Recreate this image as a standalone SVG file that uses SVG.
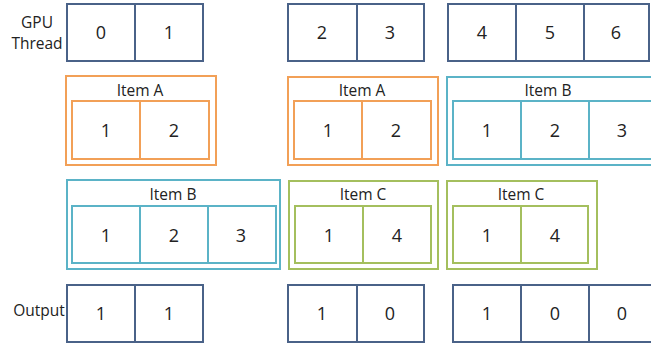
<svg xmlns="http://www.w3.org/2000/svg" width="651" height="344" viewBox="0 0 651 344">
<style>
text{font-family:"Open Sans","Liberation Sans",sans-serif;fill:#222;text-anchor:middle}
.n{font-size:18px}
.l{font-size:15.5px}
.t{fill:none;stroke:#4a6288;stroke-width:2}
.a{fill:none;stroke:#f2a057;stroke-width:2}
.b{fill:none;stroke:#5bb3c7;stroke-width:2}
.c{fill:none;stroke:#a4bf5e;stroke-width:2}
</style>
<rect width="651" height="344" fill="#fff"/>
<g id="labels">
<text class="l" x="37" y="28">GPU</text>
<text class="l" x="37" y="49">Thread</text>
<text class="l" x="39" y="316">Output</text>
</g>
<g id="thread1">
<rect class="t" x="67" y="4" width="136" height="57"/>
<line class="t" x1="135" y1="4" x2="135" y2="61"/>
<text class="n" x="101" y="39">0</text><text class="n" x="169" y="39">1</text>
</g>
<g id="thread2">
<rect class="t" x="288" y="4" width="136" height="57"/>
<line class="t" x1="357" y1="4" x2="357" y2="61"/>
<text class="n" x="322" y="39">2</text><text class="n" x="390" y="39">3</text>
</g>
<g id="thread3">
<rect class="t" x="448" y="4" width="201" height="57"/>
<line class="t" x1="516" y1="4" x2="516" y2="61"/>
<line class="t" x1="584" y1="4" x2="584" y2="61"/>
<text class="n" x="482" y="39">4</text><text class="n" x="550" y="39">5</text><text class="n" x="616" y="39">6</text>
</g>
<g id="itemA1">
<rect class="a" x="66" y="76" width="150" height="89"/>
<text class="l" x="140" y="96">Item A</text>
<rect class="a" x="72" y="101" width="137" height="58"/>
<line class="a" x1="140" y1="101" x2="140" y2="159"/>
<text class="n" x="106" y="137">1</text><text class="n" x="174" y="137">2</text>
</g>
<g id="itemA2">
<rect class="a" x="288" y="77" width="150" height="88"/>
<text class="l" x="362" y="96">Item A</text>
<rect class="a" x="294" y="101" width="137" height="58"/>
<line class="a" x1="362" y1="101" x2="362" y2="159"/>
<text class="n" x="328" y="137">1</text><text class="n" x="396" y="137">2</text>
</g>
<g id="itemB1">
<rect class="b" x="447" y="77" width="210" height="88"/>
<text class="l" x="548" y="96">Item B</text>
<rect class="b" x="453" y="101" width="204" height="58"/>
<line class="b" x1="521" y1="101" x2="521" y2="159"/>
<line class="b" x1="589" y1="101" x2="589" y2="159"/>
<text class="n" x="487" y="137">1</text><text class="n" x="555" y="137">2</text><text class="n" x="622" y="137">3</text>
</g>
<g id="itemB2">
<rect class="b" x="67" y="180" width="213" height="89"/>
<text class="l" x="173" y="200">Item B</text>
<rect class="b" x="72" y="206" width="204" height="57"/>
<line class="b" x1="140" y1="206" x2="140" y2="263"/>
<line class="b" x1="208" y1="206" x2="208" y2="263"/>
<text class="n" x="106" y="242">1</text><text class="n" x="174" y="242">2</text><text class="n" x="241" y="242">3</text>
</g>
<g id="itemC1">
<rect class="c" x="289" y="181" width="149" height="88"/>
<text class="l" x="363" y="200">Item C</text>
<rect class="c" x="295" y="206" width="136" height="57"/>
<line class="c" x1="363" y1="206" x2="363" y2="263"/>
<text class="n" x="329" y="242">1</text><text class="n" x="397" y="242">4</text>
</g>
<g id="itemC2">
<rect class="c" x="447" y="181" width="150" height="88"/>
<text class="l" x="521" y="200">Item C</text>
<rect class="c" x="453" y="206" width="135" height="57"/>
<line class="c" x1="521" y1="206" x2="521" y2="263"/>
<text class="n" x="487" y="242">1</text><text class="n" x="555" y="242">4</text>
</g>
<g id="output1">
<rect class="t" x="67" y="285" width="136" height="57"/>
<line class="t" x1="135" y1="285" x2="135" y2="342"/>
<text class="n" x="101" y="320">1</text><text class="n" x="169" y="320">1</text>
</g>
<g id="output2">
<rect class="t" x="288" y="285" width="136" height="57"/>
<line class="t" x1="357" y1="285" x2="357" y2="342"/>
<text class="n" x="322" y="320">1</text><text class="n" x="390" y="320">0</text>
</g>
<g id="output3">
<rect class="t" x="453" y="285" width="204" height="57"/>
<line class="t" x1="521" y1="285" x2="521" y2="342"/>
<line class="t" x1="589" y1="285" x2="589" y2="342"/>
<text class="n" x="487" y="320">1</text><text class="n" x="555" y="320">0</text><text class="n" x="622" y="320">0</text>
</g>
<g id="connectors"></g>
</svg>
